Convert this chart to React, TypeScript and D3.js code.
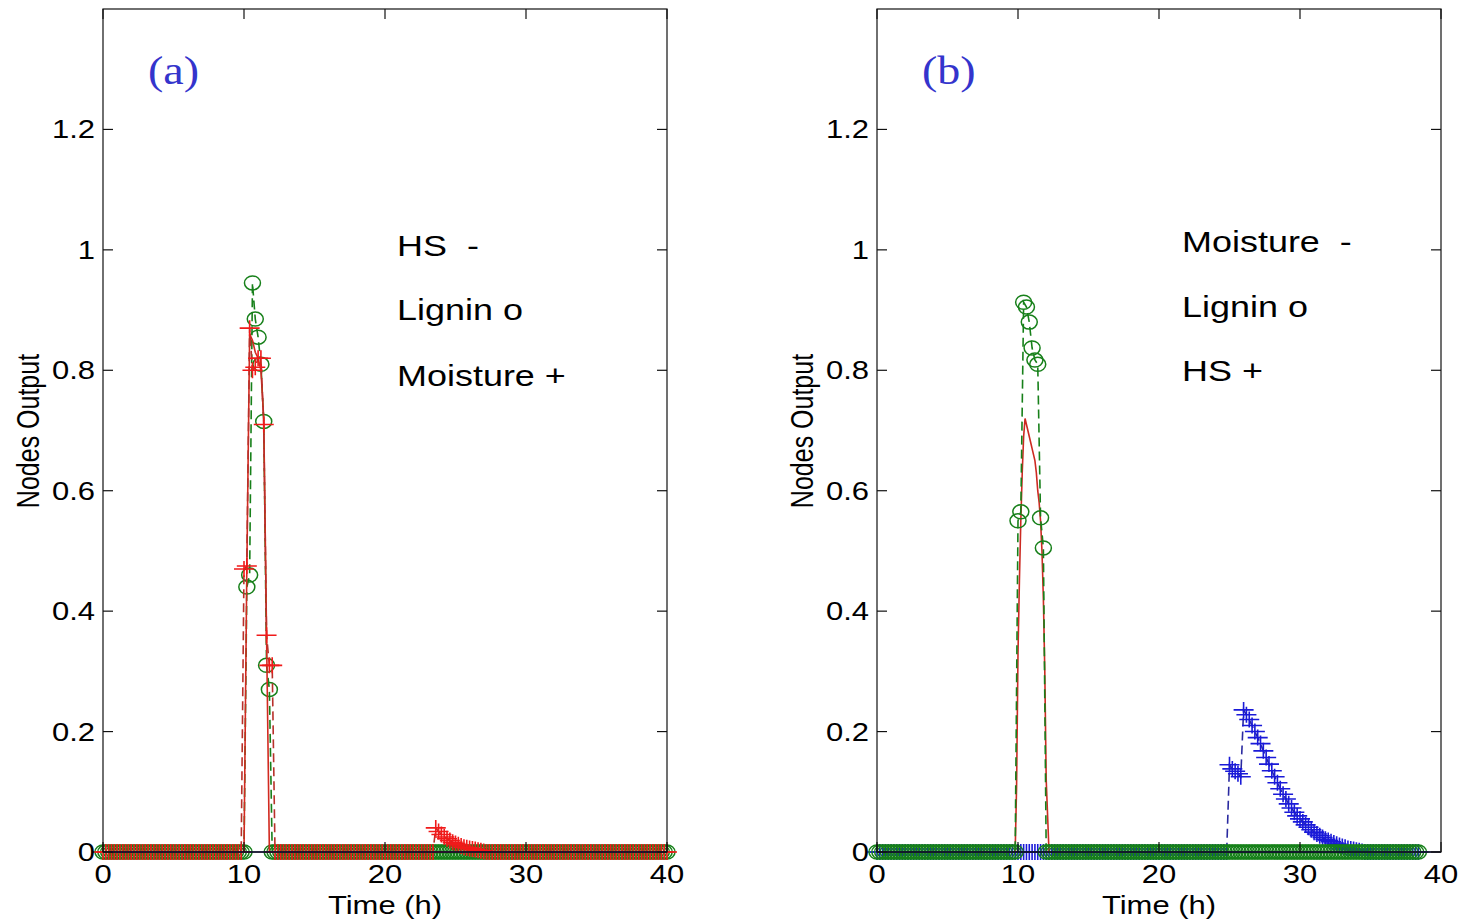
import React from "react";
import * as d3 from "d3";

// ---------------- data ----------------
// Sampling step of the simulation (hours); samples not listed below read as 0.
const STEP = 0.2;
const A_END = 40;
const B_END = 38.4;

const X_TICKS = [0, 10, 20, 30, 40];
const Y_TICKS = [0, 0.2, 0.4, 0.6, 0.8, 1, 1.2];

// Panel (a)
const A_HS_T = [10.2, 10.4, 10.6, 10.8, 11.0, 11.2, 11.4, 11.6];
const A_HS_V = [0.47, 0.86, 0.85, 0.83, 0.82, 0.8, 0.72, 0.36];

const A_LIGNIN_T = [10.2, 10.4, 10.6, 10.8, 11.0, 11.2, 11.4, 11.6, 11.8];
const A_LIGNIN_V = [0.44, 0.46, 0.945, 0.885, 0.855, 0.81, 0.715, 0.31, 0.27];

const A_MOIST_PEAK_T = [10.0, 10.2, 10.4, 10.6, 10.8, 11.0, 11.2, 11.4, 11.6, 11.8, 12.0];
const A_MOIST_PEAK_V = [0.47, 0.475, 0.87, 0.8, 0.805, 0.82, 0.82, 0.71, 0.36, 0.31, 0.31];
const A_MOIST_TAIL_T = [23.6, 23.8, 24.0, 24.2, 24.4, 24.6, 24.8, 25.0, 25.2, 25.4, 25.6, 25.8, 26.0, 26.2, 26.4, 26.6, 26.8, 27.0];
const A_MOIST_TAIL_V = [0.04, 0.034, 0.029, 0.025, 0.022, 0.019, 0.016, 0.014, 0.012, 0.01, 0.008, 0.007, 0.006, 0.005, 0.004, 0.003, 0.002, 0.001];

// Panel (b)
const B_MOIST_T = [9.9, 10.0, 10.1, 10.2, 10.3, 10.4, 10.5, 10.6, 10.7, 10.8, 10.9, 11.0, 11.1, 11.2, 11.3, 11.4, 11.5, 11.6, 11.7, 11.8, 11.9, 12.0];
const B_MOIST_V = [0.11, 0.33, 0.45, 0.55, 0.63, 0.69, 0.72, 0.71, 0.7, 0.69, 0.68, 0.67, 0.66, 0.65, 0.63, 0.6, 0.58, 0.55, 0.5, 0.42, 0.3, 0.12];

const B_LIGNIN_T = [10.0, 10.2, 10.4, 10.6, 10.8, 11.0, 11.2, 11.4, 11.6, 11.8];
const B_LIGNIN_V = [0.55, 0.565, 0.913, 0.905, 0.88, 0.837, 0.817, 0.81, 0.555, 0.505];

const B_HS_T = [
  25.0, 25.2, 25.4, 25.6, 25.8, 26.0, 26.2, 26.4, 26.6, 26.8, 27.0, 27.2, 27.4, 27.6, 27.8, 28.0,
  28.2, 28.4, 28.6, 28.8, 29.0, 29.2, 29.4, 29.6, 29.8, 30.0, 30.2, 30.4, 30.6, 30.8, 31.0, 31.2,
  31.4, 31.6, 31.8, 32.0, 32.2, 32.4, 32.6, 32.8, 33.0, 33.2, 33.4, 33.6, 33.8, 34.0, 34.2, 34.4,
];
const B_HS_V = [
  0.145, 0.138, 0.134, 0.13, 0.125, 0.236, 0.228, 0.22, 0.21, 0.2, 0.19, 0.18, 0.168, 0.157, 0.146, 0.135,
  0.125, 0.115, 0.105, 0.096, 0.088, 0.08, 0.073, 0.066, 0.06, 0.055, 0.05, 0.045, 0.041, 0.037, 0.033, 0.03,
  0.027, 0.024, 0.021, 0.019, 0.017, 0.015, 0.013, 0.011, 0.009, 0.008, 0.006, 0.005, 0.004, 0.003, 0.002, 0.001,
];

const A_LEGEND = ["HS  -", "Lignin o", "Moisture +"];
const B_LEGEND = ["Moisture  -", "Lignin o", "HS +"];

// ---------------- helpers ----------------
type Pt = [number, number];
const key = (t: number) => t.toFixed(2);

function buildSeries(end: number, ts: number[][], vs: number[][]): Pt[] {
  const m = new Map<string, number>();
  const times = new Set<string>();
  d3.range(0, end + 1e-6, STEP).forEach((t) => times.add(key(t)));
  ts.forEach((arr, i) =>
    arr.forEach((t, j) => {
      m.set(key(t), vs[i][j]);
      times.add(key(t));
    })
  );
  return Array.from(times)
    .map((k) => +k)
    .sort((a, b) => a - b)
    .map((t) => [t, m.get(key(t)) ?? 0] as Pt);
}

const SX = 1.24; // glyphs in the figure are stretched horizontally
const TOP = 9;
const BOTTOM = 852;

type Series = {
  pts: Pt[];
  color: string;
  dash: string | null;
  marker: "o" | "+" | null;
  lineColor?: string;
};

function Panel({ left, right, series, legend, label, legendX, legendY }: {
  left: number; right: number; series: Series[]; legend: string[]; label: string; legendX: number; legendY: number[];
}) {
  const x = d3.scaleLinear().domain([0, 40]).range([left, right]);
  const y = d3.scaleLinear().domain([0, 1.4]).range([BOTTOM, TOP]);
  const line = d3.line<Pt>().x((d) => x(d[0])).y((d) => y(d[1]));
  const font = "'Liberation Sans', Arial, sans-serif";
  const cx = (left + right) / 2;
  const tickLen = 10;
  return (
    <g>
      {series.map((s, i) => (
        <g key={i}>
          <path
            d={line(s.pts) || ""}
            fill="none"
            stroke={s.lineColor || s.color}
            strokeWidth={1.6}
            strokeDasharray={s.dash || undefined}
          />
          {s.marker === "o" &&
            s.pts.map((p, j) => (
              <ellipse key={j} cx={x(p[0])} cy={y(p[1])} rx={8} ry={7} fill="none" stroke={s.color} strokeWidth={1.5} />
            ))}
          {s.marker === "+" &&
            s.pts.map((p, j) => {
              const px = x(p[0]);
              const py = y(p[1]);
              return (
                <path key={j} d={`M${px - 10},${py}H${px + 10}M${px},${py - 8}V${py + 8}`} stroke={s.color} strokeWidth={1.6} fill="none" />
              );
            })}
        </g>
      ))}
      {/* frame */}
      <rect x={left} y={TOP} width={right - left} height={BOTTOM - TOP} fill="none" stroke="#111" strokeWidth={1.2} />
      <line x1={left} x2={right} y1={BOTTOM} y2={BOTTOM} stroke="#101030" strokeWidth={1.6} />
      {Y_TICKS.map((t) => (
        <g key={"y" + t}>
          <line x1={left} x2={left + tickLen} y1={y(t)} y2={y(t)} stroke="#111" strokeWidth={1.2} />
          <line x1={right} x2={right - tickLen} y1={y(t)} y2={y(t)} stroke="#111" strokeWidth={1.2} />
          <text transform={`translate(${left - 8},${y(t) + 9}) scale(${SX},1)`} textAnchor="end" fontSize={25} fontFamily={font} fill="#000">
            {String(t)}
          </text>
        </g>
      ))}
      {X_TICKS.map((t) => (
        <g key={"x" + t}>
          <line x1={x(t)} x2={x(t)} y1={BOTTOM} y2={BOTTOM - tickLen} stroke="#111" strokeWidth={1.2} />
          <line x1={x(t)} x2={x(t)} y1={TOP} y2={TOP + tickLen} stroke="#111" strokeWidth={1.2} />
          <text transform={`translate(${x(t)},${883}) scale(${SX},1)`} textAnchor="middle" fontSize={25} fontFamily={font} fill="#000">
            {String(t)}
          </text>
        </g>
      ))}
      <text transform={`translate(${cx},${914}) scale(${SX},1)`} textAnchor="middle" fontSize={25} fontFamily={font} fill="#000">
        Time (h)
      </text>
      <text transform={`translate(${left - 64},${431}) scale(${SX},1) rotate(-90)`} textAnchor="middle" fontSize={25} fontFamily={font} fill="#000">
        Nodes Output
      </text>
      <text transform={`translate(${left + 45},${84}) scale(1.18,1)`} fontSize={39} fontFamily="'Liberation Serif', 'Times New Roman', serif" fill="#3434cc">
        {label}
      </text>
      {legend.map((s, i) => (
        <text key={s} transform={`translate(${legendX},${legendY[i]}) scale(${SX},1)`} fontSize={29} fontFamily={font} fill="#000" style={{ whiteSpace: "pre" }}>
          {s}
        </text>
      ))}
    </g>
  );
}

export default function App() {
  const aLignin = buildSeries(A_END, [A_LIGNIN_T], [A_LIGNIN_V]);
  const aHS = buildSeries(A_END, [A_HS_T], [A_HS_V]);
  const aMoist = buildSeries(A_END, [A_MOIST_PEAK_T, A_MOIST_TAIL_T], [A_MOIST_PEAK_V, A_MOIST_TAIL_V]);

  const bHS = buildSeries(B_END, [B_HS_T], [B_HS_V]);
  const bMoist = buildSeries(B_END, [B_MOIST_T], [B_MOIST_V]);
  const bLignin = buildSeries(B_END, [B_LIGNIN_T], [B_LIGNIN_V]);

  const GREEN = "#17801a";
  const RED = "#f01a1a";
  const BLUE = "#1a1ad8";

  const seriesA: Series[] = [
    { pts: aLignin, color: GREEN, dash: "9,5", marker: "o" },
    { pts: aHS, color: "#d22a20", dash: null, marker: null },
    { pts: aMoist, color: RED, dash: "9,5", marker: "+", lineColor: "#b8302a" },
  ];
  const seriesB: Series[] = [
    { pts: bHS, color: BLUE, dash: "9,5", marker: "+", lineColor: "#2a2aa0" },
    { pts: bMoist, color: "#cc2a22", dash: null, marker: null },
    { pts: bLignin, color: GREEN, dash: "9,5", marker: "o" },
  ];

  return (
    <svg width={1460} height={921} style={{ position: "absolute", left: 0, top: 0, background: "#fff" }}>
      <rect width={1460} height={921} fill="#fff" />
      <Panel left={103} right={667} series={seriesA} legend={A_LEGEND} label="(a)" legendX={397} legendY={[256, 320, 386]} />
      <Panel left={877} right={1441} series={seriesB} legend={B_LEGEND} label="(b)" legendX={1182} legendY={[252, 317, 381]} />
    </svg>
  );
}
